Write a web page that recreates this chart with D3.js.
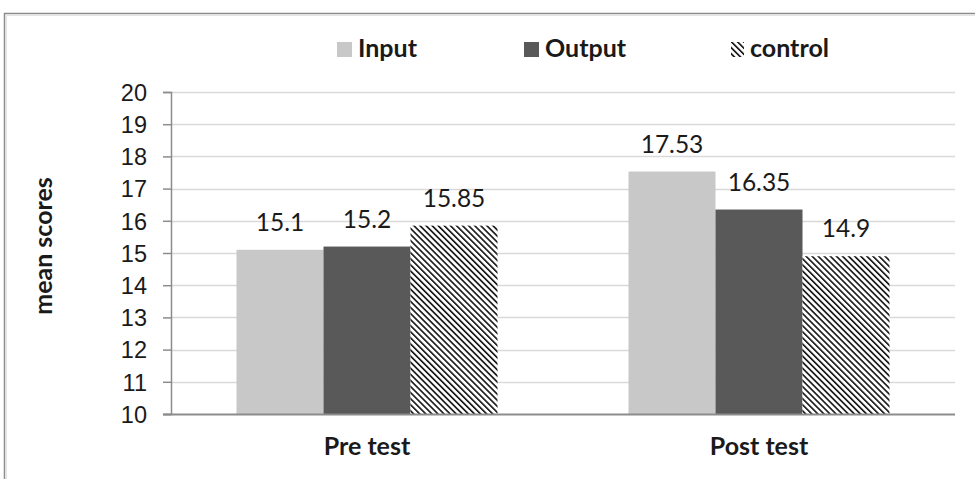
<!DOCTYPE html>
<html>
<head>
<meta charset="utf-8">
<script src="https://cdn.jsdelivr.net/npm/d3@7"></script>
<style>
  body { margin: 0; background: #fff; }
  svg { display: block; font-family: Lato, "Open Sans", sans-serif; }
</style>
</head>
<body>
<div id="chart"></div>
<script>
// chart data
var groups = ["Pre test", "Post test"];
var seriesNames = ["Input", "Output", "control"];
var inputVals = [15.1, 17.53];
var outputVals = [15.2, 16.35];
var controlVals = [15.85, 14.9];
var valueLabels = [["15.1", "15.2", "15.85"], ["17.53", "16.35", "14.9"]];
var yTicks = [10, 11, 12, 13, 14, 15, 16, 17, 18, 19, 20];

var W = 975, H = 479;
var margin = { top: 92, right: 20, bottom: 65, left: 171 },
    width = 955 - margin.left,
    height = 414 - margin.top;

var svg = d3.select("#chart")
    .append("svg")
    .attr("width", W)
    .attr("height", H);

// hatch pattern for control
var defs = svg.append("defs");
var pat = defs.append("pattern")
    .attr("id", "hatch")
    .attr("patternUnits", "userSpaceOnUse")
    .attr("width", 4.3)
    .attr("height", 4.3)
    .attr("patternTransform", "rotate(-45)");
pat.append("rect").attr("width", 4.3).attr("height", 4.3).attr("fill", "#fff");
pat.append("rect").attr("x", 0).attr("y", 0).attr("width", 1.6).attr("height", 4.3).attr("fill", "#111");

// outer frame
svg.append("path")
    .attr("d", "M4.5," + (H + 2) + "V13.5H" + (W + 2))
    .attr("fill", "none")
    .attr("stroke", "#8c8c8c")
    .attr("stroke-width", 1.5);
svg.append("path")
    .attr("d", "M6.5," + (H + 2) + "V15.5H" + (W + 2))
    .attr("fill", "none")
    .attr("stroke", "#e4e4e4")
    .attr("stroke-width", 1);

var g = svg.append("g")
    .attr("transform", "translate(" + margin.left + "," + margin.top + ")");

var x0 = d3.scaleBand().domain(groups).range([0, width]).paddingInner(0).paddingOuter(0);
var x1 = d3.scaleBand().domain(seriesNames).range([0, 261]);
var y = d3.scaleLinear().domain([10, 20]).range([height, 0]);

// gridlines
g.append("g")
    .selectAll("line")
    .data(yTicks.slice(1))
    .enter()
    .append("line")
    .attr("x1", 0)
    .attr("x2", width)
    .attr("y1", function (d) { return Math.round(y(d)) + 0.5; })
    .attr("y2", function (d) { return Math.round(y(d)) + 0.5; })
    .attr("stroke", "#d9d9d9")
    .attr("stroke-width", 1.5);

var fills = { "Input": "#c8c8c8", "Output": "#595959", "control": "url(#hatch)" };

var rows = groups.map(function (grp, i) {
    return [
        { group: grp, key: "Input", value: inputVals[i], label: valueLabels[i][0] },
        { group: grp, key: "Output", value: outputVals[i], label: valueLabels[i][1] },
        { group: grp, key: "control", value: controlVals[i], label: valueLabels[i][2] }
    ];
});

var grpG = g.selectAll(".grp")
    .data(rows)
    .enter()
    .append("g")
    .attr("transform", function (d) {
        return "translate(" + (x0(d[0].group) + (x0.bandwidth() - 261) / 2) + ",0)";
    });

grpG.selectAll("rect")
    .data(function (d) { return d; })
    .enter()
    .append("rect")
    .attr("x", function (d) { return x1(d.key); })
    .attr("width", x1.bandwidth())
    .attr("y", function (d) { return y(d.value); })
    .attr("height", function (d) { return y(10) - y(d.value); })
    .attr("fill", function (d) { return fills[d.key]; });

grpG.selectAll("text")
    .data(function (d) { return d; })
    .enter()
    .append("text")
    .attr("x", function (d) { return x1(d.key) + x1.bandwidth() / 2; })
    .attr("y", function (d) { return y(d.value) - 19; })
    .attr("text-anchor", "middle")
    .style("font-size", "24.5px")
    .style("fill", "#1a1a1a")
    .text(function (d) { return d.label; });

// y axis
var yAxis = g.append("g")
    .call(d3.axisLeft(y).tickValues(yTicks).tickSize(8).tickPadding(16).tickFormat(d3.format("d")));
yAxis.select(".domain").attr("stroke", "#8c8c8c").attr("stroke-width", 1.5);
yAxis.selectAll(".tick line").attr("stroke", "#8c8c8c").attr("stroke-width", 1.5);
yAxis.selectAll("text").style("font-size", "23.5px").style("fill", "#1a1a1a").attr("dy", "0.35em");

// x axis line
g.append("line")
    .attr("x1", -8)
    .attr("x2", width)
    .attr("y1", height + 0.5)
    .attr("y2", height + 0.5)
    .attr("stroke", "#8c8c8c")
    .attr("stroke-width", 2);

// category labels
g.selectAll(".cat")
    .data(groups)
    .enter()
    .append("text")
    .attr("x", function (d) { return x0(d) + x0.bandwidth() / 2; })
    .attr("y", height + 41)
    .attr("text-anchor", "middle")
    .style("font-size", "25px")
    .style("font-weight", "bold")
    .style("fill", "#1a1a1a")
    .text(function (d) { return d; });

// y axis title
svg.append("text")
    .attr("transform", "translate(52,246) rotate(-90)")
    .attr("text-anchor", "middle")
    .style("font-size", "25px")
    .style("font-weight", "bold")
    .style("fill", "#1a1a1a")
    .text("mean scores");

// legend
var legendX = [337, 524, 731];
var legend = svg.append("g");
var items = legend.selectAll("g")
    .data(seriesNames)
    .enter()
    .append("g")
    .attr("transform", function (d, i) { return "translate(" + legendX[i] + ",0)"; });
items.append("rect")
    .attr("x", 0)
    .attr("y", 42)
    .attr("width", function (d) { return d === "control" ? 13 : 15; })
    .attr("height", 15)
    .attr("fill", function (d) { return fills[d]; });
items.append("text")
    .attr("x", function (d) { return d === "control" ? 19 : 21; })
    .attr("y", 57)
    .style("font-size", "25px")
    .style("font-weight", "bold")
    .style("fill", "#1a1a1a")
    .text(function (d) { return d; });
</script>
</body>
</html>
